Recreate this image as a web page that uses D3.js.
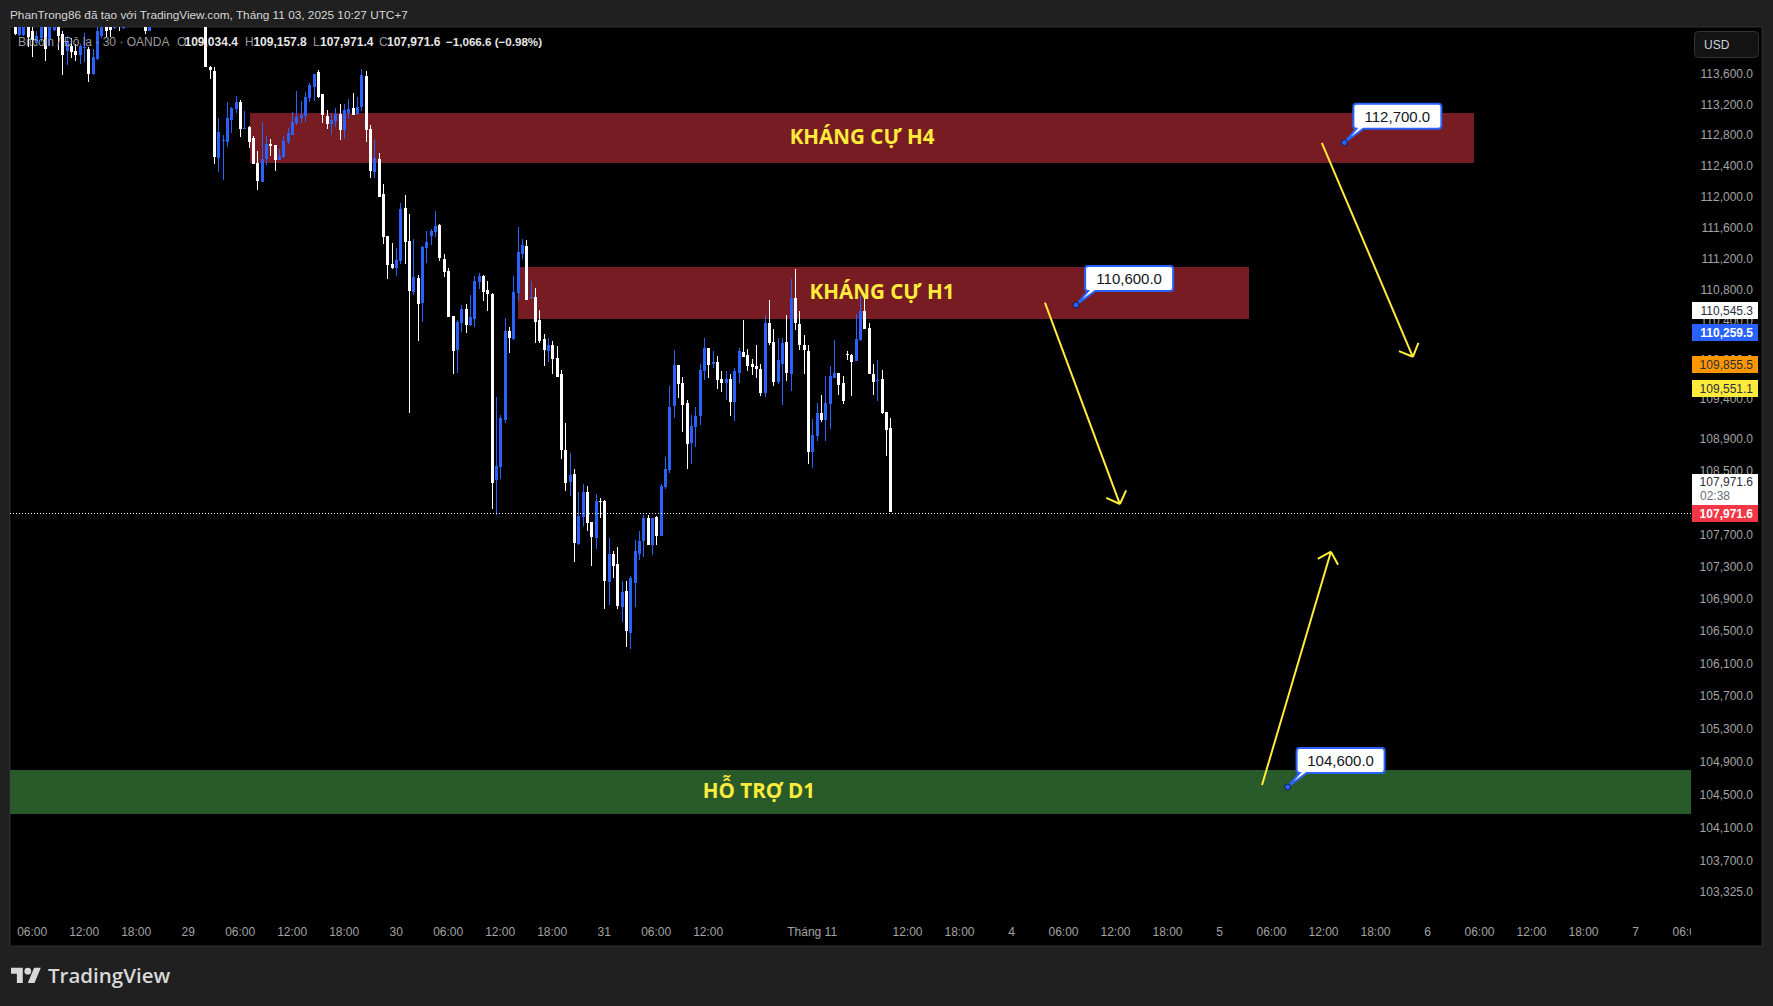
<!DOCTYPE html>
<html>
<head>
<meta charset="utf-8">
<title>Bitcoin / Đô la 30</title>
<script src="https://cdn.jsdelivr.net/npm/d3@7"></script>
<style>
  html, body { margin: 0; padding: 0; background: #202020; }
  svg { display: block; }
  text { font-family: "Liberation Sans", sans-serif; }
</style>
</head>
<body>
<div id="chart"></div>
<script>
// 30 minute candles
const opens = [114305,114109,114109,114279,114174,114004,114070,114240,114057,114187,
114240,114122,113900,113965,113900,113848,113939,113926,113600,113795,
114096,114240,114253,114213,114253,114213,114409,114305,114409,114305,
114305,114174,114320,114280,114360,114300,114390,114340,114440,114490,
114420,114370,114460,114400,114305,113691,113639,112503,112725,112712,
112999,113142,113234,112881,112907,112764,112437,112189,112489,112685,
112672,112476,112516,112712,112803,112960,113025,113051,113286,113430,
113626,113338,113051,112947,112986,113077,112868,113090,113156,113077,
113169,113573,112881,112320,112489,112032,111490,111130,111079,111169,
111850,111426,110771,110950,110629,111336,111490,111541,111631,111194,
111040,110463,110026,110373,110552,110347,110424,110899,110976,110796,
110745,108383,108546,109136,110270,110167,110758,111259,111361,110694,
110707,110411,110167,110013,110090,109924,109721,108758,108358,108458,
107581,107916,108233,107854,107655,108121,108121,107109,107457,107333,
106799,106998,106476,107097,107457,107618,107904,107569,107916,107680,
108296,108508,109314,109835,109606,109352,108846,109047,109187,109759,
110052,109848,109873,109657,109606,109657,109365,109733,110000,109962,
109848,109822,109784,109479,110373,110129,109619,109848,110129,109721,
110694,110360,110090,110013,108733,108933,109225,109136,109339,109670,
109733,109606,109975,109962,109886,110154,110527,110308,109721,109632,
109657,109238,109034.4];

const highs = [114331,114305,114331,114305,114240,114174,114305,114279,114279,114305,
114279,114174,114096,114070,113991,113991,114135,113952,113926,114240,
114305,114305,114305,114331,114305,114370,114462,114435,114462,114409,
114357,114357,114400,114400,114430,114420,114470,114480,114520,114550,
114470,114510,114530,114460,114370,113704,113691,113025,112803,113234,
113169,113312,113260,113116,112920,112790,112594,112973,112790,112751,
112672,112620,112790,112894,113103,113378,113247,113364,113482,113600,
113652,113338,113129,113090,113156,113208,113208,113273,113351,113299,
113665,113639,112933,112751,112568,112163,111490,111400,111336,111915,
112019,111772,111451,110989,111361,111554,111580,111810,111644,111259,
111079,110463,110411,110604,110617,110732,110976,111015,110989,110912,
110758,109428,109199,110437,110321,110976,111605,111451,111438,110912,
110822,110540,110231,110180,110142,110077,109771,109098,108721,108521,
108233,108333,108308,107854,108208,108158,108133,107655,107494,107544,
107122,107122,107184,107631,107742,107941,107941,107904,107928,108333,
108671,109568,110026,109835,109682,109390,109199,109301,109848,110180,
110052,110013,109949,109759,109759,109721,109797,110052,110411,110039,
109911,110090,109848,110475,110668,110296,110180,110180,110475,110938,
111066,110527,110219,110090,109148,109352,109454,109695,109822,110154,
109733,109695,110013,109975,110488,110719,110745,110373,109848,109898,
109771,109238,109157.8];

const lows = [114109,114096,114096,113952,113822,113991,114017,113769,113965,114174,
113913,113587,113717,113809,113769,113730,113756,113495,113587,113782,
114070,114083,114083,114200,114161,114200,114253,114279,114240,114253,
114122,114161,114260,114250,114270,114270,114310,114300,114400,114380,
114330,114340,114360,114300,113691,113534,112424,112320,112215,112646,
112829,113090,112777,112881,112633,112424,112085,112189,112411,112529,
112333,112476,112503,112685,112803,112934,112960,112973,113234,113247,
113286,112960,112881,112803,112907,112738,112751,113025,113064,113064,
113116,112712,112241,112241,111993,111387,110938,111066,110976,111130,
111130,109225,110732,110142,110386,111143,111374,111477,111169,110963,
110450,109721,109733,110257,110244,110334,110321,110809,110655,110527,
108021,107941,108396,109098,109987,110154,110655,111194,110668,110681,
110116,110116,109822,109873,109721,109682,108646,108246,108183,107358,
107569,107804,107742,107308,107519,107904,106774,106824,107159,106774,
106613,106303,106278,106799,107382,107420,107569,107445,107569,107680,
108271,108471,109161,109415,108983,108521,108583,108796,109072,109644,
109670,109797,109530,109492,109390,109187,109123,109606,109937,109759,
109708,109670,109441,109428,110090,109568,109593,109327,109632,109504,
110283,110026,109721,108583,108533,108871,109110,108871,109021,109670,
109454,109339,109898,109441,109886,110142,110296,109721,109454,109377,
109212,108683,107971.4];

const closes = [114122,114279,114279,114083,114044,114096,114240,113926,114226,114253,
114096,113848,114031,113887,113848,113965,113952,113600,113822,114174,
114240,114161,114187,114292,114226,114331,114305,114409,114305,114383,
114174,114305,114280,114360,114300,114390,114340,114440,114490,114420,
114370,114460,114400,114340,113691,113652,112516,112842,112738,113025,
113156,113234,112881,112894,112712,112424,112202,112489,112685,112659,
112476,112529,112725,112829,112973,113038,113064,113299,113456,113600,
113299,113064,112947,112999,113077,112868,113129,113142,113064,113169,
113587,112868,112333,112503,111993,111477,111117,111079,111182,111836,
111413,110784,110963,110617,111349,111413,111554,111618,111207,111028,
110450,110013,110386,110552,110347,110450,110912,110976,110771,110745,
108346,108558,109161,110270,110180,110771,111284,111374,110668,110707,
110386,110142,110026,110090,109911,109682,108758,108346,108446,107593,
107928,108233,107842,107668,108121,108108,107122,107457,107308,106811,
106985,106501,107159,107494,107618,107904,107569,107904,107680,108308,
108521,109301,109835,109593,109327,108833,109060,109187,109771,110052,
109835,109873,109644,109606,109657,109365,109759,110013,109937,109822,
109810,109784,109479,110373,110116,109619,109898,110116,109733,110694,
110373,110090,110026,108733,108946,109225,109136,109352,109695,109733,
109581,109377,109962,109873,110167,110527,110296,109721,109619,109644,
109225,109009,107971.6];

// axis ticks
const priceTicks = [113600,113200,112800,112400,112000,111600,111200,110800,110400,109900,109400,108900,108500,108100,107700,107300,106900,106500,106100,105700,105300,104900,104500,104100,103700,103325];
const timeTickBars = [4,16,28,40,52,64,76,88,100,112,124,136,148,160,184,206,218,230,242,254,266,278,290,302,314,326,338,350,362,374,386];
const timeTickLabels = ["06:00","12:00","18:00","29","06:00","12:00","18:00","30","06:00","12:00","18:00","31","06:00","12:00","Tháng 11","12:00","18:00","4","06:00","12:00","18:00","5","06:00","12:00","18:00","6","06:00","12:00","18:00","7","06:00"];

// drawn zones
const zoneNames = ["KHÁNG CỰ H4","KHÁNG CỰ H1","HỖ TRỢ D1"];
const zoneTop = [113090,111092,104796];
const zoneBottom = [112437,110424,104263];
const zoneStartBar = [54.15,116,-3.55];
const zoneEndBar = [336.6,284.7,386.6];
const zoneLabelBar = [195.4,200,171.6];
const zoneColors = ["#781c24","#781c24","#295a29"];

// arrows
const arrowFromBar = [237.6,301.5,287.7];
const arrowFromPrice = [110630,112698,104615];
const arrowToBar = [254.9,322.5,303.6];
const arrowToPrice = [108077,109937,107482];

// price notes
const noteBar = [306.7,244.8,293.6];
const notePrice = [112700,110600,104590];
const noteLabels = ["112,700.0","110,600.0","104,600.0"];

// coloured labels on the price scale
const markerPrices = [110545.3,110259.5,109855.5,109551.1];
const markerFill = ["#ffffff","#2962ff","#ff9800","#ffeb3b"];
const markerText = ["#2a2e39","#ffffff","#2a2e39","#2a2e39"];
const lastPrice = 107971.6;

const width = 1773, height = 1006;
const plot = {left: 10, right: 1691, top: 27, bottom: 946, axisRight: 1762};

const svg = d3.select("#chart").append("svg").attr("width", width).attr("height", height);

const x = d3.scaleLinear().domain([0, 202]).range([15.33, 890.67]);
const y = d3.scaleLog().domain([103325, 113600]).range([892, 74]);

svg.append("rect").attr("width", width).attr("height", height).attr("fill", "#202020");
svg.append("rect").attr("x", plot.left).attr("y", plot.top)
  .attr("width", plot.axisRight - plot.left).attr("height", plot.bottom - plot.top)
  .attr("fill", "#000").attr("stroke", "#2e2e2e").attr("stroke-width", 1);

const defs = svg.append("defs");
defs.append("clipPath").attr("id", "plotClip").append("rect")
  .attr("x", plot.left).attr("y", plot.top)
  .attr("width", plot.right - plot.left).attr("height", plot.bottom - plot.top);

const pane = svg.append("g").attr("clip-path", "url(#plotClip)");

// zones
pane.selectAll("rect.zone").data(zoneNames).enter().append("rect")
  .attr("class", "zone")
  .attr("x", (d, i) => Math.round(x(zoneStartBar[i])))
  .attr("width", (d, i) => Math.round(x(zoneEndBar[i])) - Math.round(x(zoneStartBar[i])))
  .attr("y", (d, i) => Math.round(y(zoneTop[i])))
  .attr("height", (d, i) => Math.round(y(zoneBottom[i])) - Math.round(y(zoneTop[i])))
  .attr("fill", (d, i) => zoneColors[i])
  .attr("shape-rendering", "crispEdges");

// candles, white falling and blue rising like the original
const bars = d3.range(opens.length);
const candleColor = i => closes[i] >= opens[i] ? "#2962ff" : "#ffffff";
const candles = pane.append("g").attr("shape-rendering", "crispEdges");

candles.selectAll("rect.wick").data(bars).enter().append("rect")
  .attr("class", "wick")
  .attr("x", i => Math.floor(x(i)))
  .attr("width", 1)
  .attr("y", i => Math.round(y(highs[i])))
  .attr("height", i => Math.max(1, Math.round(y(lows[i])) - Math.round(y(highs[i]))))
  .attr("fill", candleColor);

candles.selectAll("rect.body").data(bars).enter().append("rect")
  .attr("class", "body")
  .attr("x", i => Math.floor(x(i)) - 1)
  .attr("width", 3)
  .attr("y", i => Math.round(y(Math.max(opens[i], closes[i]))))
  .attr("height", i => Math.max(1, Math.round(y(Math.min(opens[i], closes[i]))) - Math.round(y(Math.max(opens[i], closes[i])))))
  .attr("fill", candleColor);

// last price line
pane.append("line")
  .attr("x1", plot.left).attr("x2", plot.right)
  .attr("y1", Math.floor(y(lastPrice)) + 1.5).attr("y2", Math.floor(y(lastPrice)) + 1.5)
  .attr("stroke", "#fff").attr("stroke-width", 1).attr("stroke-dasharray", "1 2");

// zone captions
pane.selectAll("text.zoneLabel").data(zoneNames).enter().append("text")
  .attr("class", "zoneLabel")
  .attr("x", (d, i) => x(zoneLabelBar[i]))
  .attr("y", (d, i) => (y(zoneTop[i]) + y(zoneBottom[i])) / 2)
  .attr("dy", "0.29em")
  .attr("text-anchor", "middle")
  .attr("fill", "#ffeb3b")
  .style("font-family", "'Open Sans', sans-serif")
  .style("font-weight", 700)
  .style("font-size", "20.6px")
  .text(d => d);

// arrows
arrowFromBar.forEach((b, i) => {
  const x0 = x(b), y0 = y(arrowFromPrice[i]), x1 = x(arrowToBar[i]), y1 = y(arrowToPrice[i]);
  const ang = Math.atan2(y0 - y1, x0 - x1);
  const head = d3.path();
  head.moveTo(x0, y0);
  head.lineTo(x1, y1);
  [-Math.PI / 4, Math.PI / 4].forEach(a => {
    head.moveTo(x1 + 15 * Math.cos(ang + a), y1 + 15 * Math.sin(ang + a));
    head.lineTo(x1, y1);
  });
  pane.append("path").attr("d", head.toString())
    .attr("fill", "none").attr("stroke", "#ffeb3b").attr("stroke-width", 2);
});

// price notes
noteLabels.forEach((label, i) => {
  const ax = x(noteBar[i]), ay = y(notePrice[i]);
  const left = ax + 9, top = ay - 39, w = 88, h = 25, r = 3;
  const p = d3.path();
  p.moveTo(left + r, top);
  p.lineTo(left + w - r, top);
  p.quadraticCurveTo(left + w, top, left + w, top + r);
  p.lineTo(left + w, top + h - r);
  p.quadraticCurveTo(left + w, top + h, left + w - r, top + h);
  p.lineTo(left + 10, top + h);
  p.lineTo(ax, ay);
  p.lineTo(left + 3, top + h);
  p.quadraticCurveTo(left, top + h, left, top + h - r);
  p.lineTo(left, top + r);
  p.quadraticCurveTo(left, top, left + r, top);
  p.closePath();
  pane.append("path").attr("d", p.toString())
    .attr("fill", "#fff").attr("stroke", "#2962ff").attr("stroke-width", 2);
  pane.append("circle").attr("cx", ax).attr("cy", ay).attr("r", 3)
    .attr("fill", "#2962ff").attr("stroke", "#0e1a40").attr("stroke-width", 1);
  pane.append("text")
    .attr("x", left + w / 2).attr("y", top + h / 2).attr("dy", "0.36em")
    .attr("text-anchor", "middle").attr("fill", "#131722")
    .style("font-size", "15px")
    .text(label);
});

// price axis
const priceAxis = d3.axisRight(y).tickValues(priceTicks).tickSize(0).tickPadding(0).tickFormat(d3.format(",.1f"));
const priceG = svg.append("g").attr("transform", `translate(${1753},0)`).call(priceAxis);
priceG.select(".domain").remove();
priceG.attr("text-anchor", "end").attr("font-family", null).attr("font-size", null);
priceG.selectAll("text").attr("x", 0).attr("fill", "#a3a3a3").style("font-size", "12px");

// time axis, clipped to the pane like the original
const timeAxis = d3.axisBottom(x).tickValues(timeTickBars).tickSize(0).tickPadding(0)
  .tickFormat(d => timeTickLabels[timeTickBars.indexOf(d)]);
const timeG = svg.append("g").attr("clip-path", "url(#plotClip)")
  .append("g").attr("transform", `translate(-1,${927})`).call(timeAxis);
timeG.select(".domain").remove();
timeG.attr("font-family", null).attr("font-size", null);
timeG.selectAll("text").attr("fill", "#a3a3a3").style("font-size", "12px");

// price scale markers
const marker = (value, fill, color, bold) => {
  const top = Math.ceil(y(value)) - 8;
  svg.append("rect").attr("x", 1692).attr("y", top).attr("width", 66).attr("height", 17)
    .attr("fill", fill).attr("shape-rendering", "crispEdges");
  svg.append("text").attr("x", 1753).attr("y", top + 8.5).attr("dy", "0.36em")
    .attr("text-anchor", "end").attr("fill", color)
    .style("font-size", "12px").style("font-weight", bold ? 700 : 400)
    .text(d3.format(",.1f")(value));
};
markerPrices.forEach((v, i) => marker(v, markerFill[i], markerText[i], i === 1));

const lastTop = Math.ceil(y(lastPrice)) - 8;
svg.append("rect").attr("x", 1692).attr("y", lastTop - 31).attr("width", 66).attr("height", 31)
  .attr("fill", "#fff").attr("shape-rendering", "crispEdges");
svg.append("text").attr("x", 1753).attr("y", lastTop - 23).attr("dy", "0.36em")
  .attr("text-anchor", "end").attr("fill", "#2a2e39").style("font-size", "12px")
  .text(d3.format(",.1f")(lastPrice));
svg.append("text").attr("x", 1700).attr("y", lastTop - 9).attr("dy", "0.36em")
  .attr("fill", "#6a6d78").style("font-size", "12px").text("02:38");
marker(lastPrice, "#f23645", "#ffffff", true);

// currency button
svg.append("rect").attr("x", 1694.5).attr("y", 31.5).attr("width", 64).attr("height", 26).attr("rx", 4)
  .attr("fill", "#131313").attr("stroke", "#333");
svg.append("text").attr("x", 1704).attr("y", 44.5).attr("dy", "0.36em")
  .attr("fill", "#d1d4dc").style("font-size", "12px").text("USD");

// top line
svg.append("text").attr("x", 10).attr("y", 15).attr("dy", "0.36em")
  .attr("fill", "#d6d6d6").style("font-size", "11.8px")
  .text("PhanTrong86 đã tạo với TradingView.com, Tháng 11 03, 2025 10:27 UTC+7");

// legend, x positions follow the words in the reference
const legendTexts = ["Bitcoin / Đô la · 30 · OANDA","O","109,034.4","H","109,157.8","L","107,971.4","C","107,971.6","−1,066.6 (−0.98%)"];
const legendX = [18,177,184.5,245,253.4,313,320,379,387,446];
const legendStrong = [false,false,true,false,true,false,true,false,true,true];
const legendSize = ["12px","12px","12px","12px","12px","12px","12px","12px","12px","11.6px"];
svg.selectAll("text.legend").data(legendTexts).enter().append("text")
  .attr("class", "legend")
  .attr("x", (d, i) => legendX[i]).attr("y", 42).attr("dy", "0.36em")
  .attr("fill", (d, i) => legendStrong[i] ? "#e6e6e6" : "#9a9a9a")
  .style("font-size", (d, i) => legendSize[i])
  .style("font-weight", (d, i) => legendStrong[i] ? 700 : 400)
  .text(d => d);

// footer logo
const logo = svg.append("g").attr("transform", "translate(11,964.5) scale(0.84)").attr("fill", "#d8d8d8");
logo.append("path").attr("d", "M14 22H7V11H0V4h14v18zM28 22h-8l7.5-18h8L28 22z");
logo.append("circle").attr("cx", 20).attr("cy", 8).attr("r", 4);
svg.append("text").attr("x", 48).attr("y", 976).attr("dy", "0.36em")
  .attr("fill", "#d8d8d8")
  .style("font-family", "'Open Sans', sans-serif")
  .style("font-size", "20.5px").style("font-weight", 600)
  .text("TradingView");
</script>
</body>
</html>
